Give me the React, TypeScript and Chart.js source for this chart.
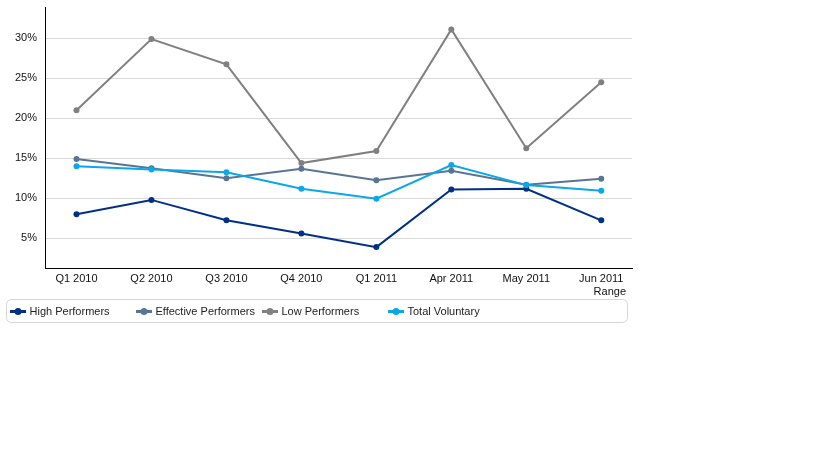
import React, { useEffect, useRef } from "react";
import { Chart, registerables } from "chart.js";

Chart.register(...registerables);

const categories = ["Q1 2010", "Q2 2010", "Q3 2010", "Q4 2010", "Q1 2011", "Apr 2011", "May 2011", "Jun 2011"];
const highPerformers = [8.0, 9.8, 7.25, 5.6, 3.9, 11.1, 11.2, 7.25];
const effectivePerformers = [14.9, 13.75, 12.5, 13.7, 12.25, 13.45, 11.7, 12.45];
const lowPerformers = [21.0, 29.9, 26.75, 14.4, 15.9, 31.1, 16.25, 24.5];
const totalVoluntary = [14.0, 13.6, 13.25, 11.2, 9.95, 14.15, 11.65, 10.95];
const yTicks = [5, 10, 15, 20, 25, 30];
const xTitle = "Range";
const seriesLabels = ["High Performers", "Effective Performers", "Low Performers", "Total Voluntary"];
const seriesColors = ["#002f87", "#587591", "#808080", "#0aa7ea"];
const seriesValues = [highPerformers, effectivePerformers, lowPerformers, totalVoluntary];

const FONT = "'Liberation Sans', Arial, sans-serif";

const legendPlugin = {
  id: "boxLegend",
  afterDraw(chart: any) {
    const ctx = chart.ctx as CanvasRenderingContext2D;
    ctx.save();
    // axis title at right end under the x axis
    ctx.fillStyle = "#111";
    ctx.font = `11px ${FONT}`;
    ctx.textBaseline = "middle";
    ctx.textAlign = "right";
    ctx.fillText(xTitle, chart.chartArea.right - 6, 291.5);
    // legend box
    const bx = 6.5, by = 299.5, bw = 621, bh = 23, r = 5;
    ctx.beginPath();
    ctx.moveTo(bx + r, by);
    ctx.lineTo(bx + bw - r, by);
    ctx.arcTo(bx + bw, by, bx + bw, by + r, r);
    ctx.lineTo(bx + bw, by + bh - r);
    ctx.arcTo(bx + bw, by + bh, bx + bw - r, by + bh, r);
    ctx.lineTo(bx + r, by + bh);
    ctx.arcTo(bx, by + bh, bx, by + bh - r, r);
    ctx.lineTo(bx, by + r);
    ctx.arcTo(bx, by, bx + r, by, r);
    ctx.closePath();
    ctx.strokeStyle = "#d6d6d6";
    ctx.lineWidth = 1;
    ctx.stroke();
    const cy = 311.5;
    chart.data.datasets.forEach((ds: any, i: number) => {
      const x0 = 10 + i * 126;
      ctx.strokeStyle = ds.borderColor;
      ctx.lineWidth = 3;
      ctx.beginPath();
      ctx.moveTo(x0, cy);
      ctx.lineTo(x0 + 16, cy);
      ctx.stroke();
      ctx.fillStyle = ds.borderColor;
      ctx.beginPath();
      ctx.arc(x0 + 8, cy, 3.5, 0, Math.PI * 2);
      ctx.fill();
      ctx.fillStyle = "#222";
      ctx.font = `11px ${FONT}`;
      ctx.textBaseline = "middle";
      ctx.textAlign = "left";
      ctx.fillText(ds.label, x0 + 19.5, cy);
    });
    ctx.restore();
  },
};

export default function App() {
  const ref = useRef<HTMLCanvasElement | null>(null);
  useEffect(() => {
    document.body.style.margin = "0";
    if (!ref.current) return;
    const n = seriesLabels.length;
    const chart = new Chart(ref.current, {
      type: "line",
      data: {
        datasets: seriesLabels.map((label, i) => ({
          label,
          data: seriesValues[i].map((v, j) => ({ x: j, y: v })),
          borderColor: seriesColors[i],
          backgroundColor: seriesColors[i],
          pointBackgroundColor: seriesColors[i],
          pointBorderColor: seriesColors[i],
          borderWidth: 2,
          pointRadius: 3,
          pointBorderWidth: 0,
          tension: 0,
          order: n - i,
        })),
      },
      options: {
        responsive: false,
        animation: false,
        layout: { padding: { top: 7, right: 186, bottom: 162, left: 0 } },
        plugins: { legend: { display: false }, tooltip: { enabled: false } },
        scales: {
          x: {
            type: "linear",
            min: -0.42,
            max: 7.41,
            afterBuildTicks: (scale: any) => {
              scale.ticks = categories.map((_, i) => ({ value: i }));
            },
            afterFit: (scale: any) => {
              scale.height = 30;
              scale.paddingLeft = 0;
              scale.paddingRight = 0;
            },
            grid: { display: false, drawTicks: false },
            border: { display: true, color: "#000", width: 1 },
            ticks: {
              padding: 4,
              color: "#111",
              font: { family: FONT, size: 11 },
              maxRotation: 0,
              autoSkip: false,
              callback: (v: any) => categories[Math.round(Number(v))] ?? "",
            },
          },
          y: {
            min: 1.29,
            max: 33.91,
            afterBuildTicks: (scale: any) => {
              scale.ticks = yTicks.map((v) => ({ value: v }));
            },
            afterFit: (scale: any) => {
              scale.width = 45;
              scale.paddingTop = 0;
              scale.paddingBottom = 0;
            },
            grid: { color: "#d9d9d9", drawTicks: false, lineWidth: 1 },
            border: { display: true, color: "#000", width: 1 },
            ticks: {
              padding: 8,
              color: "#111",
              font: { family: FONT, size: 11 },
              callback: (v: any) => `${v}%`,
            },
          },
        },
      },
      plugins: [legendPlugin],
    });
    return () => chart.destroy();
  }, []);
  return <canvas ref={ref} width={818} height={460} style={{ display: "block" }} />;
}
